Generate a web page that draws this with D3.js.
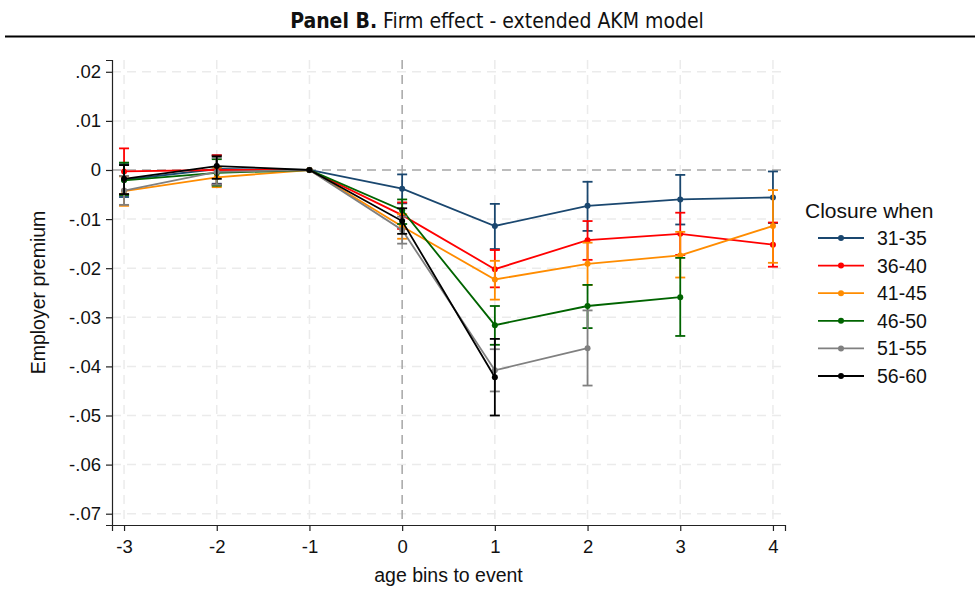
<!DOCTYPE html>
<html>
<head>
<meta charset="utf-8">
<script src="https://cdn.jsdelivr.net/npm/d3@7"></script>
<style>
  body { margin: 0; background: #fff; }
  svg { display: block; font-family: "Liberation Sans", Arial, sans-serif; }
</style>
</head>
<body>
<div id="chart"></div>
<script>
// --------------------------------------
//  Data
// --------------------------------------

const bins = [-3, -2, -1, 0, 1, 2, 3, 4];
const binLabels = ["-3", "-2", "-1", "0", "1", "2", "3", "4"];
const yTicks = [0.02, 0.01, 0, -0.01, -0.02, -0.03, -0.04, -0.05, -0.06, -0.07];
const yTickLabels = [".02", ".01", "0", "-.01", "-.02", "-.03", "-.04", "-.05", "-.06", "-.07"];
const groups = ["31-35", "36-40", "41-45", "46-50", "51-55", "56-60"];
const colors = ["#1a476f", "#ff0000", "#ff8c00", "#006400", "#808080", "#000000"];

// point estimates by bin (-3..4), null where not estimated
const est3135 = [-0.0020, 0.0002, 0, -0.0038, -0.0114, -0.0073, -0.0060, -0.0056];
const est3640 = [-0.0003, 0.0000, 0, -0.0092, -0.0202, -0.0143, -0.0130, -0.0152];
const est4145 = [-0.0043, -0.0015, 0, -0.0115, -0.0223, -0.0191, -0.0174, -0.0114];
const est4650 = [-0.0021, -0.0006, 0, -0.0082, -0.0316, -0.0277, -0.0259, null];
const est5155 = [-0.0042, -0.0004, 0, -0.0122, -0.0408, -0.0363, null, null];
const est5660 = [-0.0018, 0.0008, 0, -0.0104, -0.0422, null, null, null];

// confidence interval bounds
const lo3135 = [-0.0055, -0.0028, null, -0.0068, -0.0161, -0.0124, -0.0111, -0.0108];
const hi3135 = [0.0012, 0.0030, null, -0.0009, -0.0069, -0.0024, -0.0010, -0.0003];
const lo3640 = [-0.0050, -0.0030, null, -0.0120, -0.0239, -0.0183, -0.0173, -0.0197];
const hi3640 = [0.0044, 0.0030, null, -0.0066, -0.0163, -0.0104, -0.0087, -0.0107];
const lo4145 = [-0.0073, -0.0035, null, -0.0140, -0.0264, -0.0234, -0.0219, -0.0189];
const hi4145 = [-0.0013, 0.0005, null, -0.0090, -0.0185, -0.0148, -0.0126, -0.0041];
const lo4650 = [-0.0051, -0.0032, null, -0.0110, -0.0356, -0.0322, -0.0338, null];
const hi4650 = [0.0015, 0.0022, null, -0.0060, -0.0277, -0.0234, -0.0179, null];
const lo5155 = [-0.0071, -0.0030, null, -0.0150, -0.0451, -0.0439, null, null];
const hi5155 = [-0.0012, 0.0025, null, -0.0095, -0.0365, -0.0286, null, null];
const lo5660 = [-0.0049, -0.0018, null, -0.0130, -0.0500, null, null, null];
const hi5660 = [0.0010, 0.0028, null, -0.0078, -0.0344, null, null, null];

const estimates = [est3135, est3640, est4145, est4650, est5155, est5660];
const lows = [lo3135, lo3640, lo4145, lo4650, lo5155, lo5660];
const highs = [hi3135, hi3640, hi4145, hi4650, hi5155, hi5660];

// --------------------------------------
//  Canvas
// --------------------------------------

const width = 980;
const height = 589;
const plot = {left: 112, right: 785, top: 60, bottom: 525};

const svg = d3.select("#chart")
  .append("svg")
    .attr("width", width)
    .attr("height", height);

// --------------------------------------
//  Scales
// --------------------------------------

const x = d3.scaleLinear()
    .domain([-3.13, 4.13])
    .range([plot.left, plot.right]);

const y = d3.scaleLinear()
    .domain([-0.0723, 0.0224])
    .range([plot.bottom, plot.top]);

// --------------------------------------
//  Title
// --------------------------------------

const title = svg.append("text")
    .attr("x", 497)
    .attr("y", 28)
    .attr("text-anchor", "middle")
    .style("font-family", "'DejaVu Sans Condensed', 'DejaVu Sans', sans-serif")
    .style("font-stretch", "condensed")
    .style("font-size", "21px")
    .attr("fill", "#111");
title.append("tspan").attr("font-weight", "bold").text("Panel B.");
title.append("tspan").text(" Firm effect - extended AKM model");

svg.append("line")
    .attr("x1", 5).attr("x2", 975)
    .attr("y1", 36.5).attr("y2", 36.5)
    .attr("stroke", "#000")
    .attr("stroke-width", 2);

// --------------------------------------
//  Grid
// --------------------------------------

const grid = svg.append("g");

grid.selectAll(".hgrid")
  .data(yTicks.filter(d => d !== 0))
  .join("line")
    .attr("x1", plot.left).attr("x2", plot.right)
    .attr("y1", d => y(d)).attr("y2", d => y(d))
    .attr("stroke", "#ebebeb")
    .attr("stroke-width", 1.5)
    .attr("stroke-dasharray", "9,6");

grid.selectAll(".vgrid")
  .data(bins.filter(d => d !== 0))
  .join("line")
    .attr("x1", d => x(d)).attr("x2", d => x(d))
    .attr("y1", plot.top).attr("y2", plot.bottom)
    .attr("stroke", "#ebebeb")
    .attr("stroke-width", 1.5)
    .attr("stroke-dasharray", "9,6");

// reference lines
grid.append("line")
    .attr("x1", plot.left).attr("x2", plot.right)
    .attr("y1", y(0)).attr("y2", y(0))
    .attr("stroke", "#a6a6a6")
    .attr("stroke-width", 1.5)
    .attr("stroke-dasharray", "9,6");

grid.append("line")
    .attr("x1", x(0)).attr("x2", x(0))
    .attr("y1", plot.top).attr("y2", plot.bottom)
    .attr("stroke", "#a6a6a6")
    .attr("stroke-width", 1.5)
    .attr("stroke-dasharray", "9,6");

// --------------------------------------
//  Axes
// --------------------------------------

const yAxis = svg.append("g")
    .attr("transform", `translate(${plot.left}, 0)`)
    .call(d3.axisLeft(y)
      .tickValues(yTicks)
      .tickFormat((d, i) => yTickLabels[i])
      .tickSizeOuter(0)
      .tickSize(6)
      .tickPadding(5));

const xAxis = svg.append("g")
    .attr("transform", `translate(0, ${plot.bottom})`)
    .call(d3.axisBottom(x)
      .tickValues(bins)
      .tickFormat((d, i) => binLabels[i])
      .tickSizeOuter(0)
      .tickSize(6)
      .tickPadding(9));

[yAxis, xAxis].forEach(g => {
  g.select(".domain").attr("stroke", "#222").attr("stroke-width", 1.2);
  g.selectAll(".tick line").attr("stroke", "#222").attr("stroke-width", 1.2);
  g.selectAll(".tick text")
    .style("font-size", "18.5px")
    .style("font-family", "'Liberation Sans', Arial, sans-serif")
    .attr("fill", "#111");
});

svg.append("text")
    .attr("transform", `translate(45, ${(plot.top + plot.bottom) / 2}) rotate(-90)`)
    .attr("text-anchor", "middle")
    .style("font-size", "19.5px")
    .attr("fill", "#111")
    .text("Employer premium");

svg.append("text")
    .attr("x", (plot.left + plot.right) / 2)
    .attr("y", 582)
    .attr("text-anchor", "middle")
    .style("font-size", "19.5px")
    .attr("fill", "#111")
    .text("age bins to event");

// --------------------------------------
//  Series
// --------------------------------------

const lineGen = d3.line()
    .defined(d => d.v !== null)
    .x(d => x(d.b))
    .y(d => y(d.v));

const series = svg.append("g");

groups.forEach((g, i) => {
  const color = colors[i];
  const pts = bins.map((b, j) => ({b: b, v: estimates[i][j], lo: lows[i][j], hi: highs[i][j]}));
  const cis = pts.filter(d => d.lo !== null && d.v !== null);
  const layer = series.append("g");

  layer.selectAll(".ci")
    .data(cis)
    .join("line")
      .attr("x1", d => x(d.b)).attr("x2", d => x(d.b))
      .attr("y1", d => y(d.lo)).attr("y2", d => y(d.hi))
      .attr("stroke", color)
      .attr("stroke-width", 1.8);

  ["lo", "hi"].forEach(k => {
    layer.selectAll(".cap-" + k)
      .data(cis)
      .join("line")
        .attr("x1", d => x(d.b) - 5).attr("x2", d => x(d.b) + 5)
        .attr("y1", d => y(d[k])).attr("y2", d => y(d[k]))
        .attr("stroke", color)
        .attr("stroke-width", 1.8);
  });

  layer.append("path")
      .attr("d", lineGen(pts))
      .attr("fill", "none")
      .attr("stroke", color)
      .attr("stroke-width", 1.8);

  layer.selectAll(".pt")
    .data(pts.filter(d => d.v !== null))
    .join("circle")
      .attr("cx", d => x(d.b))
      .attr("cy", d => y(d.v))
      .attr("r", 3)
      .attr("fill", color);
});

// --------------------------------------
//  Legend
// --------------------------------------

const legend = svg.append("g");

legend.append("text")
    .attr("x", 805)
    .attr("y", 218)
    .style("font-size", "21px")
    .attr("fill", "#111")
    .text("Closure when");

const item = legend.selectAll(".item")
  .data(groups)
  .join("g")
    .attr("transform", (d, i) => `translate(0, ${238 + i * 27.6})`);

item.append("line")
    .attr("x1", 818).attr("x2", 864)
    .attr("y1", 0).attr("y2", 0)
    .attr("stroke", (d, i) => colors[i])
    .attr("stroke-width", 1.8);

item.append("circle")
    .attr("cx", 841).attr("cy", 0).attr("r", 3)
    .attr("fill", (d, i) => colors[i]);

item.append("text")
    .attr("x", 877)
    .attr("y", 7)
    .style("font-size", "19.5px")
    .attr("fill", "#111")
    .text(d => d);
</script>
</body>
</html>
